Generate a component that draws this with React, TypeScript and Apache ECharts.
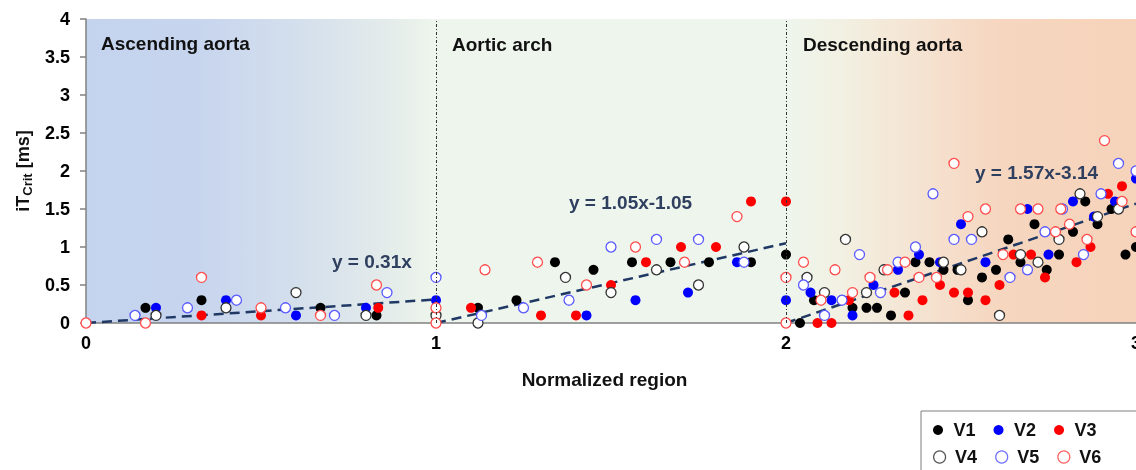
import React, { useEffect, useRef } from 'react';
import * as echarts from 'echarts';

// ---- data ----
const seriesNames = ['V1', 'V2', 'V3', 'V4', 'V5', 'V6'];

const v1: number[][] = [
  [0.17, 0.2], [0.33, 0.3], [0.67, 0.2], [0.83, 0.1],
  [1.12, 0.2], [1.23, 0.3], [1.34, 0.8], [1.45, 0.7], [1.56, 0.8], [1.67, 0.8], [1.78, 0.8], [1.9, 0.8], [2, 0.9],
  [2.04, 0], [2.08, 0.3], [2.16, 0.3], [2.19, 0.2], [2.23, 0.2], [2.26, 0.2], [2.3, 0.1], [2.34, 0.4], [2.37, 0.8],
  [2.41, 0.8], [2.45, 0.7], [2.49, 0.7], [2.52, 0.3], [2.56, 0.6], [2.6, 0.7], [2.635, 1.1], [2.67, 0.8], [2.71, 1.3],
  [2.745, 0.7], [2.78, 0.9], [2.82, 1.2], [2.855, 1.6], [2.89, 1.3], [2.93, 1.5], [2.97, 0.9], [3.0, 1.0],
];
const v2: number[][] = [
  [0.2, 0.2], [0.4, 0.3], [0.6, 0.1], [0.8, 0.2], [1, 0.3],
  [1.43, 0.1], [1.57, 0.3], [1.72, 0.4], [1.86, 0.8], [2, 0.3],
  [2.07, 0.4], [2.13, 0.3], [2.19, 0.1], [2.25, 0.5], [2.32, 0.7], [2.38, 0.9], [2.44, 0.8], [2.5, 1.3], [2.57, 0.8],
  [2.69, 1.5], [2.75, 0.9], [2.82, 1.6], [2.88, 1.4], [2.94, 1.6], [3.0, 1.9],
];
const v3: number[][] = [
  [0.33, 0.1], [0.5, 0.1], [0.835, 0.2],
  [1.1, 0.2], [1.3, 0.1], [1.4, 0.1], [1.5, 0.5], [1.6, 0.8], [1.7, 1.0], [1.8, 1.0], [1.9, 1.6], [2, 1.6],
  [2.09, 0], [2.13, 0], [2.18, 0.3], [2.31, 0.4], [2.35, 0.1], [2.39, 0.3], [2.44, 0.5], [2.48, 0.4], [2.52, 0.4],
  [2.57, 0.3], [2.61, 0.5], [2.65, 0.9], [2.7, 0.9], [2.74, 0.6], [2.83, 0.8], [2.87, 1.0], [2.92, 1.7], [2.96, 1.8],
];
const v4: number[][] = [
  [0.2, 0.1], [0.4, 0.2], [0.6, 0.4], [0.8, 0.1], [1, 0.1],
  [1.12, 0], [1.37, 0.6], [1.5, 0.4], [1.63, 0.7], [1.75, 0.5], [1.88, 1.0],
  [2.06, 0.6], [2.11, 0.4], [2.17, 1.1], [2.23, 0.4], [2.28, 0.7], [2.45, 0.8], [2.5, 0.7], [2.56, 1.2], [2.61, 0.1],
  [2.67, 0.9], [2.72, 0.8], [2.78, 1.1], [2.84, 1.7], [2.89, 1.4], [2.95, 1.5],
];
const v5: number[][] = [
  [0.14, 0.1], [0.29, 0.2], [0.43, 0.3], [0.57, 0.2], [0.71, 0.1], [0.86, 0.4], [1, 0.6],
  [1.13, 0.1], [1.25, 0.2], [1.38, 0.3], [1.5, 1.0], [1.63, 1.1], [1.75, 1.1], [1.88, 0.8],
  [2.05, 0.5], [2.11, 0.1], [2.16, 0.3], [2.21, 0.9], [2.27, 0.4], [2.32, 0.8], [2.37, 1.0], [2.42, 1.7], [2.48, 1.1],
  [2.53, 1.1], [2.64, 0.6], [2.69, 0.7], [2.74, 1.2], [2.79, 1.5], [2.85, 0.9], [2.9, 1.7], [2.95, 2.1], [3.0, 2.0],
];
const v6: number[][] = [
  [0, 0], [0.17, 0], [0.33, 0.6], [0.5, 0.2], [0.67, 0.1], [0.83, 0.5], [1, 0.2], [1, 0],
  [1.14, 0.7], [1.29, 0.8], [1.43, 0.5], [1.57, 1.0], [1.71, 0.8], [1.86, 1.4], [2, 0.6], [2, 0],
  [2.05, 0.8], [2.1, 0.3], [2.14, 0.7], [2.19, 0.4], [2.24, 0.6], [2.29, 0.7], [2.34, 0.8], [2.38, 0.6], [2.43, 0.6],
  [2.48, 2.1], [2.52, 1.4], [2.57, 1.5], [2.62, 0.9], [2.67, 1.5], [2.72, 1.5], [2.77, 1.2], [2.785, 1.5], [2.81, 1.3],
  [2.86, 1.1], [2.91, 2.4], [2.96, 1.6], [3.0, 1.2],
];

// regression trend lines (end points) and their labels
const trendAscending: number[][] = [[0, 0], [1, 0.31]];
const trendArch: number[][] = [[1, 0], [2, 1.05]];
const trendDescending: number[][] = [[2, 0], [3, 1.57]];
const trendLabels = ['y = 0.31x', 'y = 1.05x-1.05', 'y = 1.57x-3.14'];
const regionLabels = ['Ascending aorta', 'Aortic arch', 'Descending aorta'];
const regionBoundaries = [1, 2];

const FONT = "'Liberation Sans', Arial, sans-serif";

export default function App() {
  const ref = useRef<HTMLDivElement>(null);

  useEffect(() => {
    if (!ref.current) return;
    const chart = echarts.init(ref.current, null, { renderer: 'svg' });

    const filled = (name: string, data: number[][], color: string) => ({
      name,
      type: 'scatter',
      data,
      symbol: 'circle',
      symbolSize: 10,
      z: 3,
      itemStyle: { color, opacity: 1 },
    });
    const open = (name: string, data: number[][], color: string) => ({
      name,
      type: 'scatter',
      data,
      symbol: 'circle',
      symbolSize: 10,
      z: 3,
      itemStyle: { color: '#ffffff', borderColor: color, borderWidth: 1.3, opacity: 1 },
    });
    const trend = (data: number[][], withMark: boolean) => ({
      type: 'line',
      data,
      showSymbol: false,
      symbol: 'none',
      z: 2,
      silent: true,
      lineStyle: { color: '#1f3864', width: 2.5, type: [10, 6] },
      markLine: withMark
        ? {
            symbol: 'none',
            silent: true,
            label: { show: false },
            lineStyle: { color: '#333', type: [3, 2, 1, 2], width: 1 },
            data: regionBoundaries.map((b) => ({ xAxis: b })),
          }
        : undefined,
    });

    const eqStyle = { fill: '#2f3f5f', font: `bold 19px ${FONT}`, textVerticalAlign: 'middle' };
    const regStyle = { fill: '#111', font: `bold 19px ${FONT}`, textVerticalAlign: 'middle' };

    chart.setOption({
      animation: false,
      grid: {
        left: 86,
        right: 0,
        top: 19,
        bottom: 147,
        show: true,
        borderWidth: 0,
        containLabel: false,
        outerBoundsMode: 'none',
        backgroundColor: new echarts.graphic.LinearGradient(0, 0, 1, 0, [
          { offset: 0, color: '#c5d4ee' },
          { offset: 0.1, color: '#c6d4ee' },
          { offset: 0.2, color: '#d4dfed' },
          { offset: 0.28, color: '#e2eaea' },
          { offset: 0.33, color: '#eef5ec' },
          { offset: 0.67, color: '#eef5ec' },
          { offset: 0.72, color: '#f2f0e2' },
          { offset: 0.8, color: '#f5e2d0' },
          { offset: 0.87, color: '#f6d6bf' },
          { offset: 1, color: '#f6d3bb' },
        ]),
      },
      xAxis: {
        type: 'value',
        min: 0,
        max: 3,
        interval: 1,
        name: 'Normalized region',
        nameLocation: 'middle',
        nameGap: 47,
        nameTextStyle: { fontFamily: FONT, fontWeight: 'bold', fontSize: 19, color: '#111', padding: [0, 13, 0, 0] },
        axisLine: { show: true, onZero: false, lineStyle: { color: '#808080', width: 1.5 } },
        axisTick: { show: false },
        splitLine: { show: false },
        axisLabel: { fontFamily: FONT, fontWeight: 'bold', fontSize: 18, color: '#000', margin: 11 },
      },
      yAxis: {
        type: 'value',
        min: 0,
        max: 4,
        interval: 0.5,
        name: '{a|iT}{b|Crit}{a| [ms]}',
        nameLocation: 'middle',
        nameGap: 52,
        nameTextStyle: {
          rich: {
            a: { fontFamily: FONT, fontWeight: 'bold', fontSize: 18, color: '#111', lineHeight: 22 },
            b: { fontFamily: FONT, fontWeight: 'bold', fontSize: 13, color: '#111', lineHeight: 13, verticalAlign: 'bottom' },
          },
        },
        axisLine: { show: true, lineStyle: { color: '#808080', width: 1.5 } },
        axisTick: { show: true, length: 6, lineStyle: { color: '#808080', width: 1.5 } },
        splitLine: { show: false },
        axisLabel: { fontFamily: FONT, fontWeight: 'bold', fontSize: 18, color: '#000', margin: 16 },
      },
      legend: [
        {
          data: seriesNames.slice(0, 3).map((n) => ({ name: n })),
          left: 933,
          top: 421,
          padding: 0,
          itemWidth: 21,
          itemHeight: 10,
          itemGap: 18,
          icon: 'circle',
          textStyle: { fontFamily: FONT, fontWeight: 'bold', fontSize: 18, color: '#111', padding: [0, 0, 0, 0] },
        },
        {
          data: [
            { name: 'V4', itemStyle: { color: '#fff', borderColor: '#555', borderWidth: 1.2 } },
            { name: 'V5', itemStyle: { color: '#fff', borderColor: '#6f6fff', borderWidth: 1.2 } },
            { name: 'V6', itemStyle: { color: '#fff', borderColor: '#ff6060', borderWidth: 1.2 } },
          ],
          left: 933,
          top: 448,
          padding: 0,
          itemWidth: 21,
          itemHeight: 12,
          itemGap: 18,
          icon: 'circle',
          textStyle: { fontFamily: FONT, fontWeight: 'bold', fontSize: 18, color: '#111' },
        },
      ],
      graphic: [
        { type: 'rect', shape: { x: 921, y: 411, width: 240, height: 80 }, style: { fill: 'none', stroke: '#7f7f7f', lineWidth: 1 }, silent: true },
        { type: 'text', x: 101, y: 43, style: { ...regStyle, text: regionLabels[0] } },
        { type: 'text', x: 452, y: 44, style: { ...regStyle, text: regionLabels[1] } },
        { type: 'text', x: 803, y: 44, style: { ...regStyle, text: regionLabels[2] } },
        { type: 'text', x: 332, y: 261, style: { ...eqStyle, text: trendLabels[0] } },
        { type: 'text', x: 569, y: 202, style: { ...eqStyle, text: trendLabels[1] } },
        { type: 'text', x: 975, y: 172, style: { ...eqStyle, text: trendLabels[2] } },
      ],
      series: [
        trend(trendAscending, true),
        trend(trendArch, false),
        trend(trendDescending, false),
        filled('V1', v1, '#000000'),
        filled('V2', v2, '#0000ff'),
        filled('V3', v3, '#ff0000'),
        open('V4', v4, '#333333'),
        open('V5', v5, '#5a5aff'),
        open('V6', v6, '#ff4d4d'),
      ],
    });

    return () => chart.dispose();
  }, []);

  return <div ref={ref} style={{ position: 'fixed', left: 0, top: 0, width: 1136, height: 470 }} />;
}
